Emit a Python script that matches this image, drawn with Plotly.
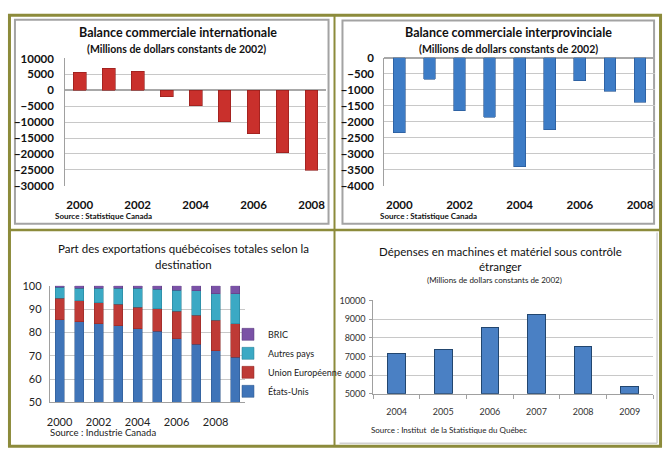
import plotly.graph_objects as go

W, H = 670, 457

# ---------- data ----------
years_top = [2000, 2001, 2002, 2003, 2004, 2005, 2006, 2007, 2008]
intl_balance = [5700, 7000, 6000, -2000, -4900, -9900, -13600, -19600, -25200]
interprov_balance = [-2340, -680, -1660, -1860, -3400, -2260, -730, -1050, -1400]

years_exp = ["2000", "2001", "2002", "2003", "2004", "2005", "2006", "2007", "2008", "2009"]
exp_us = [85.5, 84.5, 83.7, 82.8, 81.7, 80.6, 77.2, 74.9, 72.1, 69.3]
exp_eu = [9.1, 9.2, 9.0, 9.2, 9.1, 9.5, 11.8, 12.4, 13.1, 14.5]
exp_other = [4.7, 5.2, 6.2, 6.9, 8.1, 8.5, 9.2, 10.6, 11.3, 12.7]
exp_bric = [0.7, 1.1, 1.1, 1.1, 1.1, 1.4, 1.8, 2.1, 3.5, 3.5]

years_mach = ["2004", "2005", "2006", "2007", "2008", "2009"]
mach_spend = [7160, 7390, 8540, 9250, 7530, 5380]

top_ticks = [2000, 2002, 2004, 2006, 2008]
exp_ticks = ["2000", "2002", "2004", "2006", "2008"]

# ---------- helpers ----------
def px(x):
    return x / W

def py(y):
    return 1 - y / H

def dx(a, b):
    return [a / W, b / W]

def dy(top, bottom):
    return [1 - bottom / H, 1 - top / H]

FONT = "Lato, Open Sans, sans-serif"
GRID = "#C8C8C8"

fig = go.Figure()

# Panel 1: international balance
fig.add_trace(go.Bar(x=years_top, y=intl_balance, width=0.44,
                     marker=dict(color="#C9302C", line=dict(color="#8E1B19", width=0.6)),
                     xaxis="x", yaxis="y", showlegend=False))
# Panel 2: interprovincial balance
fig.add_trace(go.Bar(x=years_top, y=interprov_balance, width=0.39,
                     marker=dict(color="#3D7CC6", line=dict(color="#24548F", width=0.6)),
                     xaxis="x2", yaxis="y2", showlegend=False))
# Panel 3: stacked exports
for name, vals, col, lc in [("États-Unis", exp_us, "#3F74B8", "#2B5489"),
                            ("Union Européenne", exp_eu, "#BE3A36", "#8A2321"),
                            ("Autres pays", exp_other, "#3BA9C4", "#247C92"),
                            ("BRIC", exp_bric, "#7A52A6", "#553878")]:
    fig.add_trace(go.Bar(x=years_exp, y=vals, name=name, width=0.46,
                         marker=dict(color=col, line=dict(color=lc, width=0.5)),
                         xaxis="x3", yaxis="y3", showlegend=True))
# Panel 4: machinery spending
fig.add_trace(go.Bar(x=years_mach, y=[v - 5000 for v in mach_spend], base=5000, width=0.38,
                     marker=dict(color="#4A80C4", line=dict(color="#22466F", width=1)),
                     xaxis="x4", yaxis="y4", showlegend=False))

bold_tick = dict(family=FONT, size=11.5, color="#111", weight="bold")

layout = dict(
    width=W, height=H, autosize=False,
    margin=dict(l=0, r=0, t=0, b=0),
    paper_bgcolor="white", plot_bgcolor="rgba(0,0,0,0)",
    barmode="stack",
    # panel 1
    xaxis=dict(domain=dx(62.5, 324.5), range=[1999.5, 2008.5], tickvals=top_ticks,
               tickformat="d", tickfont=bold_tick, showgrid=False, zeroline=False,
               ticklabelstandoff=11, anchor="y"),
    yaxis=dict(domain=dy(53, 184), range=[-30000, 10000], dtick=5000, tickformat="d",
               tickfont=bold_tick, gridcolor=GRID, gridwidth=1, zeroline=True,
               zerolinecolor="#A8A8A8", showline=True, linecolor="#A0A0A0",
               ticklabelstandoff=8, anchor="x"),
    # panel 2
    xaxis2=dict(domain=dx(383, 655), range=[1999.5, 2008.5], tickvals=top_ticks,
                tickformat="d", tickfont=bold_tick, showgrid=False, zeroline=False,
                ticklabelstandoff=11, anchor="y2"),
    yaxis2=dict(domain=dy(52, 184), range=[-4000, 0], dtick=500, tickformat="d",
                tickfont=bold_tick, gridcolor=GRID, zeroline=True, zerolinecolor="#A8A8A8",
                showline=True, linecolor="#A0A0A0", ticklabelstandoff=7, anchor="x2"),
    # panel 3
    xaxis3=dict(domain=dx(47, 243), type="category", categoryorder="array",
                categoryarray=years_exp, tickvals=exp_ticks,
                tickfont=dict(family=FONT, size=11, color="#222"),
                showgrid=False, showline=True, linecolor="#A0A0A0", ticklabelstandoff=9,
                anchor="y3"),
    yaxis3=dict(domain=dy(287, 407), range=[50, 100], dtick=10,
                tickfont=dict(family=FONT, size=11, color="#222"),
                gridcolor=GRID, zeroline=False, showline=True, linecolor="#A0A0A0",
                ticklabelstandoff=5, anchor="x3"),
    # panel 4
    xaxis4=dict(domain=dx(372, 653), type="category", categoryorder="array",
                categoryarray=years_mach,
                tickfont=dict(family=FONT, size=9, color="#333"),
                showgrid=False, showline=True, linecolor="#A0A0A0",
                ticks="outside", tickson="boundaries", ticklen=4, tickcolor="#A0A0A0",
                ticklabelstandoff=10, anchor="y4"),
    yaxis4=dict(domain=dy(302, 398), range=[5000, 10000], dtick=1000, tickformat="d",
                tickfont=dict(family=FONT, size=9, color="#333"),
                gridcolor=GRID, zeroline=False, showline=True, linecolor="#A0A0A0",
                ticks="outside", ticklen=3, tickcolor="#A0A0A0",
                ticklabelstandoff=2, anchor="x4"),
    legend=dict(x=px(226), y=py(322), xanchor="left", yanchor="top",
                traceorder="reversed", bgcolor="rgba(0,0,0,0)",
                font=dict(family=FONT, size=9, color="#222"),
                itemwidth=30, tracegroupgap=0),
)
fig.update_layout(**layout)

# ---------- frames ----------
OLIVE = "#8C8B3B"
shapes = [
    dict(type="rect", xref="paper", yref="paper", x0=px(12), x1=px(327), y0=py(223), y1=py(13),
         line=dict(color="#A3A3A3", width=2), layer="below"),
    dict(type="rect", xref="paper", yref="paper", x0=px(341), x1=px(654), y0=py(223), y1=py(14),
         line=dict(color="#A3A3A3", width=2), layer="below"),
    dict(type="line", xref="paper", yref="paper", x0=px(657), x1=px(657), y0=py(449), y1=py(232),
         line=dict(color="#D0D0D0", width=1.5), layer="below"),
    dict(type="line", xref="paper", yref="paper", x0=px(338), x1=px(657), y0=py(449), y1=py(449),
         line=dict(color="#D0D0D0", width=1.5), layer="below"),
    dict(type="rect", xref="paper", yref="paper", x0=px(6.5), x1=px(660.5), y0=py(452), y1=py(8.5),
         line=dict(color=OLIVE, width=3), layer="above"),
    dict(type="line", xref="paper", yref="paper", x0=px(6), x1=px(661), y0=py(229.5), y1=py(229.5),
         line=dict(color=OLIVE, width=2.5), layer="above"),
    dict(type="line", xref="paper", yref="paper", x0=px(333), x1=px(333), y0=py(452), y1=py(8),
         line=dict(color=OLIVE, width=2), layer="above"),
]
fig.update_layout(shapes=shapes)

# ---------- texts ----------
def ann(x, y, text, size, bold=False, anchor="center", color="#111"):
    fig.add_annotation(xref="paper", yref="paper", x=px(x), y=py(y), text=text,
                       showarrow=False, xanchor=anchor, yanchor="middle",
                       font=dict(family=FONT, size=size, color=color,
                                 weight="bold" if bold else "normal"))

ann(176, 26, "Balance commerciale internationale", 12.5, bold=True)
ann(174, 43, "(Millions de dollars constants de 2002)", 10.5, bold=True)
ann(50, 215, "Source : Statistique Canada", 8, bold=True, anchor="left")

ann(508, 26, "Balance commerciale interprovinciale", 12.5, bold=True)
ann(508, 43, "(Millions de dollars constants de 2002)", 10.5, bold=True)
ann(377, 215, "Source : Statistique Canada", 8, bold=True, anchor="left")

ann(181, 249, "Part des exportations québécoises totales selon la", 11.5)
ann(181, 265, "destination", 11.5)
ann(45, 438, "Source : Industrie Canada", 9.5, anchor="left", color="#222")

ann(500, 252, "Dépenses en machines et matériel sous contrôle", 11.5)
ann(500, 267, "étranger", 11.5)
ann(494, 281, "(Millions de dollars constants de 2002)", 8, color="#222")
ann(368, 435, "Source : Institut  de la Statistique du Québec", 8, anchor="left", color="#222")

fig.write_html("out.html")
